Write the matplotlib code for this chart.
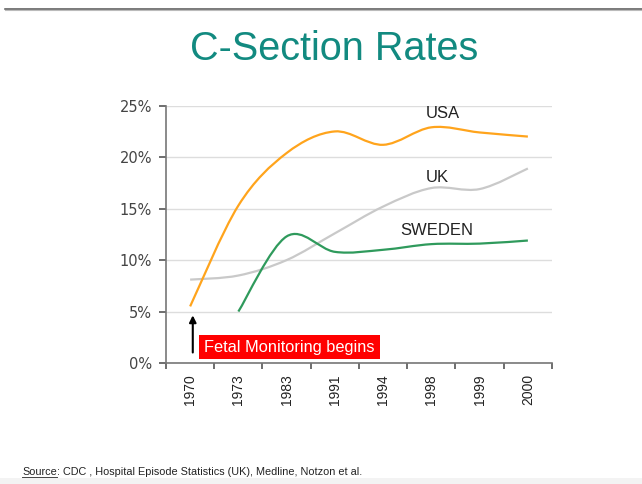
import matplotlib
matplotlib.use("Agg")
import matplotlib.pyplot as plt
from matplotlib.path import Path
from matplotlib.patches import PathPatch, Rectangle
from matplotlib.lines import Line2D
import numpy as np

years = ["1970", "1973", "1983", "1991", "1994", "1998", "1999", "2000"]
usa = [5.5, 15.3, 20.4, 22.5, 21.2, 22.9, 22.4, 22.0]
uk = [8.1, 8.5, 10.0, 12.6, 15.2, 17.0, 16.9, 18.9]
sweden = [None, 5.0, 12.3, 10.8, 11.0, 11.55, 11.6, 11.9]

yticks = [0, 5, 10, 15, 20, 25]


def smooth_path(xs, ys):
    # excel-style smoothed line: bezier through every data point
    pts = [(x, y) for x, y in zip(xs, ys) if y is not None]
    n = len(pts)
    verts = [pts[0]]
    codes = [Path.MOVETO]
    for i in range(n - 1):
        p0 = pts[max(i - 1, 0)]
        p1 = pts[i]
        p2 = pts[i + 1]
        p3 = pts[min(i + 2, n - 1)]
        c1 = (p1[0] + (p2[0] - p0[0]) / 6, p1[1] + (p2[1] - p0[1]) / 6)
        c2 = (p2[0] - (p3[0] - p1[0]) / 6, p2[1] - (p3[1] - p1[1]) / 6)
        verts += [c1, c2, p2]
        codes += [Path.CURVE4] * 3
    return Path(verts, codes)


fig = plt.figure(figsize=(6.42, 4.84), dpi=100)
ax = fig.add_axes([166 / 642, 1 - 363 / 484, 386 / 642, (363 - 105.7) / 484])

x = np.arange(len(years))
for series, color in [(uk, "#c9c9c9"), (sweden, "#2f9a5c"), (usa, "#ffa41c")]:
    ax.add_patch(PathPatch(smooth_path(x, series), fill=False, edgecolor=color,
                           linewidth=1.6, capstyle="butt", zorder=3))

ax.set_xlim(-0.5, len(years) - 0.5)
ax.set_ylim(0, 25)

ax.set_yticks(yticks)
ax.set_yticklabels([f"{v}%" for v in yticks], fontsize=10.5, family="DejaVu Sans", color="#444444")
ax.set_xticks(x)
ax.set_xticklabels(years, rotation=90, fontsize=10, family="Liberation Sans", color="#222222")
ax.set_xticks(np.arange(len(years) + 1) - 0.5, minor=True)
ax.tick_params(axis="x", which="major", length=0, pad=8)
ax.tick_params(axis="x", which="minor", length=4, width=1.2, color="#555555")
ax.tick_params(axis="y", length=5, width=1.2, color="#555555", pad=5)

ax.grid(axis="y", color="#dddddd", linewidth=1)
ax.set_axisbelow(True)
for side in ["top", "right"]:
    ax.spines[side].set_visible(False)
for side in ["left", "bottom"]:
    ax.spines[side].set_color("#777777")
    ax.spines[side].set_linewidth(1.2)

ax.text(5.24, 24.2, "USA", fontsize=12, family="Liberation Sans", ha="center", va="center", color="#222222")
ax.text(5.12, 18.06, "UK", fontsize=12, family="Liberation Sans", ha="center", va="center", color="#222222")
ax.text(5.12, 12.9, "SWEDEN", fontsize=12, family="Liberation Sans", ha="center", va="center", color="#222222")

ax.text(2.06, 1.55, "Fetal Monitoring begins", fontsize=11.8, family="Liberation Sans",
        ha="center", va="center", color="white",
        bbox=dict(boxstyle="square,pad=0.3", facecolor="#ff0000", edgecolor="none"))
ax.annotate("", xy=(0.055, 4.9), xytext=(0.055, 0.75),
            arrowprops=dict(arrowstyle="-|>", color="black", lw=1.5, mutation_scale=10))

fig.text(334 / 642, 1 - 60 / 484, "C-Section Rates", fontsize=28.5, family="Liberation Sans",
         color="#128a80", ha="center", va="baseline")

fig.add_artist(Line2D([5 / 642, 1], [1 - 8.5 / 484, 1 - 8.5 / 484], color="#555555", linewidth=1.1))
fig.add_artist(Line2D([5 / 642, 1], [1 - 10 / 484, 1 - 10 / 484], color="#bbbbbb", linewidth=0.8))
fig.add_artist(Rectangle((0, 0), 1, 6 / 484, transform=fig.transFigure, facecolor="#f3f3f3",
                         edgecolor="none"))

src = fig.text(22 / 642, 1 - 475 / 484, "Source", fontsize=7.8, family="Liberation Sans", color="#222222")
fig.canvas.draw()
bb = src.get_window_extent().transformed(fig.transFigure.inverted())
fig.text(bb.x1, 1 - 475 / 484, ": CDC , Hospital Episode Statistics (UK), Medline, Notzon et al.",
         fontsize=7.8, family="Liberation Sans", color="#222222")
fig.add_artist(Line2D([bb.x0, bb.x1], [bb.y0 + 0.001, bb.y0 + 0.001], color="#444444", linewidth=0.7))

fig.savefig("out.png", dpi=100)
